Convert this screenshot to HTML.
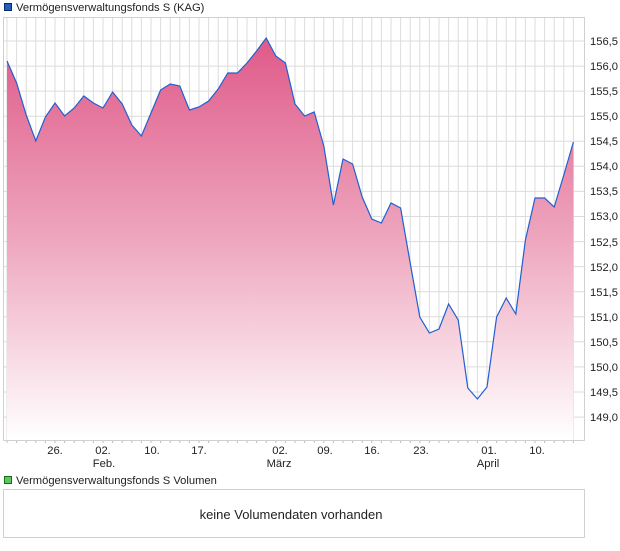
<!DOCTYPE html>
<html><head><meta charset="utf-8"><style>
body{margin:0;background:#fff;width:620px;height:546px;overflow:hidden;font-family:"Liberation Sans",sans-serif}
</style></head><body>
<svg width="620" height="546" xmlns="http://www.w3.org/2000/svg" font-family="Liberation Sans, sans-serif">
<defs>
<linearGradient id="g" x1="0" y1="38" x2="0" y2="440" gradientUnits="userSpaceOnUse">
<stop offset="0" stop-color="#df5a89"/>
<stop offset="0.5" stop-color="#eea6be"/>
<stop offset="1" stop-color="#ffffff"/>
</linearGradient>
</defs>
<rect x="4.5" y="3.5" width="7" height="7" fill="#1f5fbf" stroke="#0a2a66"/>
<text x="16" y="11" font-size="11.2" fill="#222">Vermögensverwaltungsfonds S (KAG)</text>
<g id="grid" stroke="#dcdcdc" stroke-width="1"></g>
<path id="area" fill="url(#g)"/>
<path id="line" fill="none" stroke="#2060d0" stroke-width="1.2"/>
<rect x="3.5" y="17.5" width="581" height="423" fill="none" stroke="#d0d0d0"/>
<g font-size="11.2" fill="#222">
<text x="590" y="45">156,5</text><text x="590" y="70">156,0</text><text x="590" y="95">155,5</text>
<text x="590" y="120">155,0</text><text x="590" y="145">154,5</text><text x="590" y="170">154,0</text>
<text x="590" y="195">153,5</text><text x="590" y="220">153,0</text><text x="590" y="246">152,5</text>
<text x="590" y="271">152,0</text><text x="590" y="296">151,5</text><text x="590" y="321">151,0</text>
<text x="590" y="346">150,5</text><text x="590" y="371">150,0</text><text x="590" y="396">149,5</text>
<text x="590" y="421">149,0</text>
</g>
<g font-size="11.2" fill="#222" text-anchor="middle">
<text x="55" y="454">26.</text><text x="103" y="454">02.</text><text x="152" y="454">10.</text>
<text x="199" y="454">17.</text><text x="280" y="454">02.</text><text x="325" y="454">09.</text>
<text x="372" y="454">16.</text><text x="421" y="454">23.</text><text x="489" y="454">01.</text>
<text x="537" y="454">10.</text>
<text x="104" y="467">Feb.</text><text x="279" y="467">März</text><text x="488" y="467">April</text>
</g>
<rect x="4.5" y="476.5" width="7" height="7" fill="#5cc85c" stroke="#1a6a1a"/>
<text x="16" y="484" font-size="11.2" fill="#222">Vermögensverwaltungsfonds S Volumen</text>
<rect x="3.5" y="489.5" width="581" height="48" fill="#fff" stroke="#d0d0d0"/>
<text x="291" y="519" font-size="13" fill="#222" text-anchor="middle">keine Volumendaten vorhanden</text>
</svg>
<script>
var ys=[61,83,115,141,117,103,116,108,96,103,108,92,104,125,136,113,90,84,86,110,107,101,89,73,73,63,51,38,56,63,104,116,112,146,205,159,164,197,219,223,203,208,263,317,333,329,304,320,388,399,387,317,298,314,240,198,198,207,175,142];
var x0=7,dx=9.6;
var g=document.getElementById('grid'),s='';
for(var i=0;i<60;i++){var x=(x0+i*dx).toFixed(1);s+='<line x1="'+x+'" y1="18" x2="'+x+'" y2="440"/>';s+='<line x1="'+x+'" y1="440" x2="'+x+'" y2="443" stroke="#bbb"/>';}
for(var j=0;j<16;j++){var y=(41+j*25.07).toFixed(1);s+='<line x1="4" y1="'+y+'" x2="584" y2="'+y+'"/>';}
g.innerHTML=s;
var d='';for(var i=0;i<ys.length;i++){d+=(i?'L':'M')+(x0+i*dx).toFixed(1)+' '+ys[i];}
document.getElementById('line').setAttribute('d',d);
document.getElementById('area').setAttribute('d',d+'L'+(x0+59*dx).toFixed(1)+' 440L'+x0+' 440Z');
</script>
</body></html>
